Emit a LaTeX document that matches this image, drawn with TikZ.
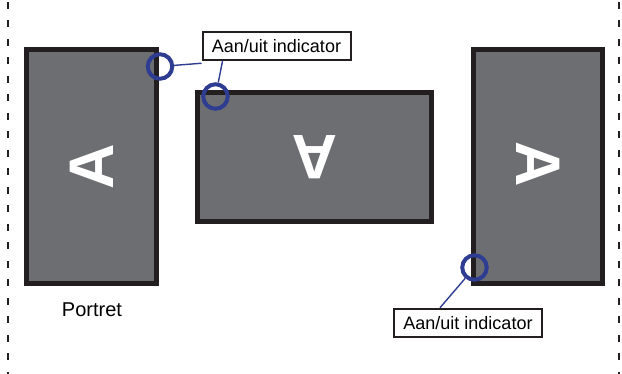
\documentclass[tikz,border=0pt]{standalone}
\usepackage{fontspec}
\setmainfont{Liberation Sans}
\definecolor{frameblk}{RGB}{35,31,32}
\definecolor{screengray}{RGB}{109,110,113}
\definecolor{ledblue}{RGB}{46,61,146}
\tikzset{
  screen/.style={draw=frameblk, fill=screengray, line width=5pt, inner sep=0pt, outer sep=0pt},
  bigA/.style={text=white, inner sep=0pt, font=\fontsize{63}{63}\selectfont\bfseries},
  led/.style={circle, draw=ledblue, line width=4pt, minimum size=24.5pt, inner sep=0pt},
  callout/.style={draw=frameblk, line width=2pt, fill=white, inner sep=0pt,
    minimum width=148pt, minimum height=28.5pt, font=\fontsize{18}{20}\selectfont},
  pointer/.style={draw=ledblue, line width=1.4pt},
  border/.style={draw=frameblk, dash pattern=on 7pt off 11.5pt}
}
\begin{document}
\begin{tikzpicture}[x=1pt,y=-1pt]
\useasboundingbox (0,0) rectangle (622,374);
% dashed edges
\draw[border, line width=2.2pt] (8,2) -- (8,374);
\draw[border, line width=2.8pt] (619,2) -- (619,374);

% the three screens
\node[screen, minimum width=130pt, minimum height=234pt] (portrait) at (91.5,166.5) {};
\node[screen, minimum width=234pt, minimum height=129pt] (landscape) at (314.5,157) {};
\node[screen, minimum width=129pt, minimum height=234pt] (turned) at (538,166.5) {};

% letters
\node[bigA, rotate=90] (letterL) at (portrait.center) {A};
\node[bigA, rotate=180] (letterM) at (landscape.center) {A};
\node[bigA, rotate=-90] (letterR) at ([yshift=2pt]turned.center) {A};

% indicators
\node[led] (ledL) at (160,66.5) {};
\node[led] (ledM) at (215.5,96.5) {};
\node[led] (ledR) at (474.5,267.5) {};

% labels
\node[callout] (lbltop) at (276.5,46) {Aan/uit indicator};
\node[callout] (lblbot) at (468,323) {Aan/uit indicator};
\node[font=\fontsize{20}{22}\selectfont] (portret) at (92,310) {Portret};

\draw[pointer] (ledL) -- ([yshift=-2pt]lbltop.south west);
\draw[pointer] (ledM) -- ([xshift=21pt]lbltop.south west);
\draw[pointer] (ledR) -- ([xshift=47pt]lblbot.north west);
\end{tikzpicture}
\end{document}
